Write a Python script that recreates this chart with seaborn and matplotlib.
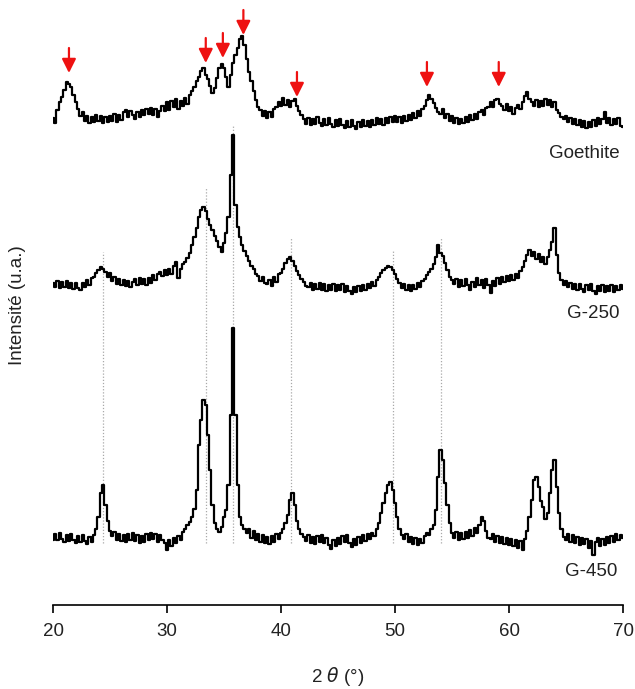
import numpy as np
import pandas as pd
import matplotlib
matplotlib.use("Agg")
import matplotlib.pyplot as plt
import seaborn as sns

# ---------------- data ----------------
# 2theta sampling grid: 20.0 .. 70.0 step 0.2 (251 points)
two_theta = np.round(np.linspace(20.0, 70.0, 251), 1)

goethite = [
    487, 482, 495, 503, 508, 515, 523, 521, 518, 510, 503, 496, 489, 493, 484, 489, 482, 488, 483, 490, 484, 489, 482, 488, 483,
    489, 484, 491, 483, 490, 485, 493, 495, 488, 494, 490, 486, 493, 488, 495, 490, 496, 491, 497, 490, 496, 488, 494, 499, 494,
    503, 495, 504, 498, 506, 496, 504, 499, 507, 501, 510, 514, 518, 524, 528, 534, 537, 530, 526, 519, 512, 517, 527, 537, 541,
    537, 528, 518, 530, 542, 550, 557, 566, 569, 560, 546, 533, 524, 514, 505, 498, 495, 489, 494, 487, 493, 488, 496, 498, 503,
    499, 507, 500, 505, 498, 504, 506, 499, 494, 490, 486, 481, 487, 480, 486, 481, 488, 482, 479, 486, 480, 487, 481, 478, 485,
    479, 486, 480, 477, 484, 478, 485, 479, 476, 483, 478, 485, 479, 484, 478, 485, 480, 487, 481, 486, 480, 487, 482, 488, 483,
    489, 483, 488, 482, 489, 484, 490, 485, 492, 487, 494, 489, 496, 499, 505, 510, 506, 502, 497, 493, 491, 496, 487, 491, 484,
    489, 482, 487, 481, 486, 482, 488, 483, 490, 485, 491, 486, 493, 495, 490, 497, 498, 503, 498, 505, 506, 501, 499, 495, 501,
    494, 498, 491, 497, 500, 496, 503, 509, 513, 506, 503, 499, 505, 498, 504, 499, 506, 500, 505, 498, 503, 495, 492, 488, 486,
    489, 483, 487, 481, 486, 480, 485, 478, 484, 477, 483, 478, 485, 479, 487, 481, 486, 493, 482, 487, 480, 486, 481, 487, 479,
    478,
]

g250 = [
    322, 318, 324, 317, 323, 318, 324, 317, 322, 316, 322, 317, 315, 322, 318, 325, 320, 327, 328, 332, 335, 338, 336, 333, 328,
    332, 324, 328, 321, 326, 320, 325, 319, 324, 318, 323, 326, 320, 327, 321, 326, 320, 327, 322, 330, 325, 331, 333, 329, 335,
    330, 336, 331, 339, 343, 327, 336, 341, 343, 347, 352, 360, 368, 377, 388, 395, 398, 394, 386, 380, 375, 369, 364, 358, 353,
    362, 372, 388, 430, 470, 400, 378, 368, 360, 354, 349, 344, 339, 336, 331, 329, 324, 328, 322, 321, 325, 319, 328, 323, 331,
    332, 336, 342, 346, 348, 344, 339, 334, 330, 326, 323, 319, 318, 322, 315, 321, 316, 322, 315, 321, 314, 320, 315, 321, 314,
    320, 315, 321, 313, 319, 314, 311, 318, 313, 319, 314, 320, 315, 321, 317, 323, 319, 325, 328, 332, 335, 337, 339, 338, 335,
    331, 326, 322, 317, 321, 315, 320, 314, 320, 316, 322, 318, 324, 326, 330, 333, 336, 341, 348, 360, 352, 349, 342, 335, 328,
    325, 321, 326, 318, 325, 319, 326, 320, 315, 323, 318, 327, 320, 325, 317, 326, 320, 312, 324, 319, 327, 321, 328, 323, 329,
    324, 330, 325, 331, 327, 334, 338, 344, 350, 355, 349, 353, 346, 351, 343, 348, 341, 348, 355, 363, 377, 350, 332, 325, 320,
    324, 318, 322, 316, 321, 315, 321, 316, 313, 320, 315, 321, 314, 311, 319, 314, 320, 313, 319, 314, 320, 313, 319, 315, 320,
    316,
]

g450 = [
    65, 71, 65, 72, 66, 63, 70, 64, 71, 65, 62, 69, 63, 70, 64, 61, 68, 63, 70, 76, 88, 112, 120, 100, 84,
    74, 69, 73, 65, 71, 64, 70, 63, 71, 65, 72, 64, 70, 62, 69, 63, 71, 65, 72, 66, 71, 63, 70, 65, 62,
    55, 65, 59, 67, 62, 69, 65, 73, 76, 80, 83, 88, 96, 115, 160, 185, 205, 200, 170, 135, 100, 82, 76, 73, 78,
    88, 95, 120, 190, 277, 190, 120, 88, 80, 76, 72, 76, 67, 74, 65, 71, 63, 70, 62, 68, 61, 69, 63, 71, 66,
    72, 76, 82, 90, 105, 112, 100, 84, 76, 71, 68, 64, 70, 62, 68, 61, 69, 63, 70, 62, 67, 60, 56, 65, 59,
    67, 61, 69, 63, 70, 62, 58, 66, 60, 68, 62, 70, 64, 71, 66, 72, 69, 76, 82, 92, 102, 112, 120, 123, 115,
    102, 88, 76, 70, 66, 71, 63, 68, 61, 67, 60, 66, 62, 69, 72, 70, 76, 80, 95, 128, 155, 145, 122, 100, 82,
    72, 67, 73, 65, 72, 66, 73, 67, 75, 69, 77, 72, 80, 88, 84, 74, 67, 66, 71, 63, 69, 62, 68, 61, 67,
    60, 66, 59, 65, 57, 64, 55, 66, 74, 88, 105, 125, 128, 118, 104, 98, 86, 92, 112, 135, 145, 118, 92, 76, 68,
    65, 71, 63, 70, 62, 68, 60, 67, 61, 66, 57, 64, 50, 63, 67, 59, 66, 60, 68, 62, 69, 63, 71, 65, 70,
    67,
]

sample_names = ["Goethite", "G-250", "G-450"]
label_x = [69.7, 69.7, 69.5]
label_y = [452, 292, 33]

# reference peak lines (dotted)
peak_lines = [24.4, 33.4, 35.8, 40.9, 49.8, 54.0]
peak_line_top = [353, 418, 480, 368, 355, 368]
peak_line_bottom = 62

# goethite peak arrows (red)
arrow_x = [21.4, 33.4, 34.9, 36.7, 41.4, 52.8, 59.1]
arrow_tip = [532, 542, 547, 570, 508, 518, 518]
arrow_len = 25

x_ticks = [20, 30, 40, 50, 60, 70]

# ---------------- plotting ----------------
sns.set_style("white")
plt.rcParams["font.family"] = ["Liberation Sans", "DejaVu Sans"]

fig = plt.figure(figsize=(6.35, 6.89), dpi=100)
ax = fig.add_axes([53 / 635, 84 / 689, 570 / 635, 600 / 689])

df = pd.DataFrame({
    "two_theta": np.concatenate([two_theta] * 3),
    "intensity": np.concatenate([goethite, g250, g450]),
    "sample": np.repeat(sample_names, len(two_theta)),
})

ax.vlines(peak_lines, peak_line_bottom, peak_line_top, colors="#a9a9a9",
          linestyles=(0, (1, 1.5)), linewidth=0.9, zorder=0)

sns.lineplot(data=df, x="two_theta", y="intensity", hue="sample", units="sample",
             estimator=None, palette=["black"] * 3, linewidth=1.6, legend=False,
             drawstyle="steps-mid", ax=ax, zorder=2)

for name, lx, ly in zip(sample_names, label_x, label_y):
    ax.text(lx, ly, name, ha="right", va="center", fontsize=13.5, color="#222222")

for xa, tip in zip(arrow_x, arrow_tip):
    ax.annotate("", xy=(xa, tip), xytext=(xa, tip + arrow_len),
                arrowprops=dict(arrowstyle="-|>,head_length=0.6,head_width=0.3",
                                color="#ee1111", lw=1.6, mutation_scale=14,
                                shrinkA=0, shrinkB=0), zorder=3)

ax.set_xlim(20, 70)
ax.set_ylim(0, 600)
ax.set_xticks(x_ticks)
ax.set_yticks([])
ax.set_xlabel("")
ax.set_ylabel("")
for s in ["top", "right", "left"]:
    ax.spines[s].set_visible(False)
ax.spines["bottom"].set_color("black")
ax.spines["bottom"].set_linewidth(1.2)
ax.tick_params(axis="x", direction="out", length=6, width=1.2, color="black",
               labelsize=13.5, pad=7, labelcolor="#222222", bottom=True)

fig.text(338 / 635, 1 - 676 / 689, "2 $\\theta$ (°)", ha="center", va="center",
         fontsize=13.5, color="#222222")
fig.text(18 / 635, 1 - 305 / 689, "Intensité (u.a.)", ha="center", va="center",
         rotation=90, fontsize=13.5, color="#222222")

fig.savefig("out.png", dpi=100)
